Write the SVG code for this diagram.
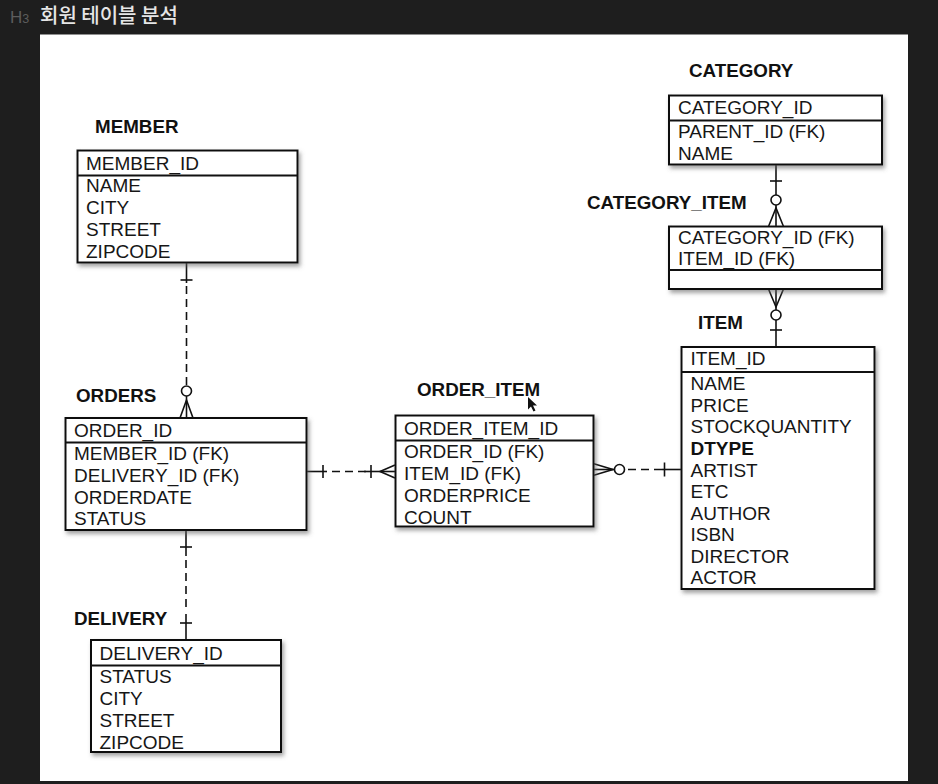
<svg xmlns="http://www.w3.org/2000/svg" width="938" height="784" viewBox="0 0 938 784">
<defs>
<style>
.t{font-family:"Liberation Sans",Arial,sans-serif;font-size:19px;fill:#161616}
.tb{font-family:"Liberation Sans",Arial,sans-serif;font-size:19px;fill:#111;font-weight:bold}
.h{font-family:"Liberation Sans",Arial,sans-serif;font-size:18.8px;font-weight:bold;fill:#111}
.box{fill:#fff;stroke:#111;stroke-width:2}
.div{stroke:#111;stroke-width:1.8}
.c{stroke:#111;stroke-width:1.6;fill:none}
.d{stroke:#111;stroke-width:1.6;fill:none;stroke-dasharray:8 5}
.o{stroke:#111;stroke-width:1.6;fill:#fff}
</style>
<filter id="sh" x="-10%" y="-10%" width="125%" height="125%">
<feDropShadow dx="2" dy="3" stdDeviation="2" flood-color="#666" flood-opacity="0.6"/>
</filter>
</defs>
<rect x="0" y="0" width="938" height="784" fill="#1e1e1e"/>
<text x="10" y="23" font-family="Liberation Sans,Arial,sans-serif" font-size="17" fill="#5c5c5c">H<tspan font-size="12.5">3</tspan></text>
<text x="40" y="23" font-family="'Noto Sans CJK KR',sans-serif" font-size="20" font-weight="500" fill="#e6e6e6">회원 테이블 분석</text>
<rect x="40" y="34.5" width="868" height="746.5" fill="#fff"/>

<g id="connectors">
<!-- member - orders -->
<line class="c" x1="186.5" y1="262" x2="186.5" y2="283"/>
<line class="c" x1="180.5" y1="280" x2="192.5" y2="280"/>
<line class="d" x1="186.5" y1="286" x2="186.5" y2="386"/>
<circle class="o" cx="186.5" cy="391" r="5"/>
<line class="c" x1="186.5" y1="396" x2="186.5" y2="418"/>
<path class="c" d="M180,418 L186.5,400 L193,418"/>
<!-- orders - delivery -->
<line class="c" x1="186" y1="530" x2="186" y2="556"/>
<line class="c" x1="180" y1="547" x2="192" y2="547"/>
<line class="d" x1="186" y1="560" x2="186" y2="612"/>
<line class="c" x1="186" y1="614" x2="186" y2="640"/>
<line class="c" x1="180" y1="623" x2="192" y2="623"/>
<!-- orders - order_item -->
<line class="c" x1="306" y1="471.5" x2="327" y2="471.5"/>
<line class="c" x1="323" y1="465" x2="323" y2="478"/>
<line class="d" x1="332" y1="471.5" x2="366" y2="471.5"/>
<line class="c" x1="364" y1="471.5" x2="395" y2="471.5"/>
<line class="c" x1="371" y1="465" x2="371" y2="478"/>
<path class="c" d="M395,465 L380,471.5 L395,478"/>
<!-- order_item - item -->
<path class="c" d="M593,463.5 L613,469.5 L593,475.5"/>
<line class="c" x1="593" y1="469.5" x2="614.5" y2="469.5"/>
<circle class="o" cx="619.5" cy="469.5" r="5"/>
<line class="d" x1="628" y1="469.5" x2="664" y2="469.5"/>
<line class="c" x1="662" y1="469.5" x2="681" y2="469.5"/>
<line class="c" x1="664.5" y1="462.5" x2="664.5" y2="476.5"/>
<!-- category - category_item -->
<line class="c" x1="776" y1="164" x2="776" y2="195"/>
<line class="c" x1="770" y1="181" x2="782" y2="181"/>
<circle class="o" cx="776" cy="200" r="5"/>
<line class="c" x1="776" y1="205" x2="776" y2="226.5"/>
<path class="c" d="M768.5,226.5 L776,208 L783.5,226.5"/>
<!-- category_item - item -->
<path class="c" d="M768.5,289 L776,307 L783.5,289"/>
<line class="c" x1="776" y1="289" x2="776" y2="310"/>
<circle class="o" cx="776" cy="315" r="5"/>
<line class="c" x1="776" y1="320" x2="776" y2="347"/>
<line class="c" x1="770" y1="330" x2="782" y2="330"/>
</g>

<g id="member">
<text class="h" x="95" y="133">MEMBER</text>
<rect class="box" x="77.5" y="150.5" width="220" height="112" filter="url(#sh)"/>
<line class="div" x1="77.5" y1="175.5" x2="297.5" y2="175.5"/>
<text class="t" x="86" y="170">MEMBER_ID</text>
<text class="t" x="86" y="192">NAME</text>
<text class="t" x="86" y="214">CITY</text>
<text class="t" x="86" y="236">STREET</text>
<text class="t" x="86" y="258">ZIPCODE</text>
</g>

<g id="orders">
<text class="h" x="76" y="402">ORDERS</text>
<rect class="box" x="65.5" y="418" width="241" height="112" filter="url(#sh)"/>
<line class="div" x1="65.5" y1="442.5" x2="306.5" y2="442.5"/>
<text class="t" x="74" y="437">ORDER_ID</text>
<text class="t" x="74" y="460">MEMBER_ID (FK)</text>
<text class="t" x="74" y="482">DELIVERY_ID (FK)</text>
<text class="t" x="74" y="503.5">ORDERDATE</text>
<text class="t" x="74" y="525">STATUS</text>
</g>

<g id="delivery">
<text class="h" x="74" y="625">DELIVERY</text>
<rect class="box" x="91" y="640" width="190" height="112" filter="url(#sh)"/>
<line class="div" x1="91" y1="665.5" x2="281" y2="665.5"/>
<text class="t" x="99.5" y="659.5">DELIVERY_ID</text>
<text class="t" x="99.5" y="683">STATUS</text>
<text class="t" x="99.5" y="705">CITY</text>
<text class="t" x="99.5" y="727">STREET</text>
<text class="t" x="99.5" y="748.5">ZIPCODE</text>
</g>

<g id="order_item">
<text class="h" x="417" y="396">ORDER_ITEM</text>
<rect class="box" x="395.5" y="415.5" width="198" height="111" filter="url(#sh)"/>
<line class="div" x1="395.5" y1="440.5" x2="593.5" y2="440.5"/>
<text class="t" x="404" y="434.5">ORDER_ITEM_ID</text>
<text class="t" x="404" y="457.5">ORDER_ID (FK)</text>
<text class="t" x="404" y="480">ITEM_ID (FK)</text>
<text class="t" x="404" y="502">ORDERPRICE</text>
<text class="t" x="404" y="523.5">COUNT</text>
<path d="M528,397 L528,409.5 L531,406.5 L533.5,411.5 L535.5,410.5 L533,405.5 L537,405.5 Z" fill="#111"/>
</g>

<g id="category">
<text class="h" x="689" y="77">CATEGORY</text>
<rect class="box" x="669" y="95.5" width="213" height="69" filter="url(#sh)"/>
<line class="div" x1="669" y1="120.5" x2="882" y2="120.5"/>
<text class="t" x="678" y="114">CATEGORY_ID</text>
<text class="t" x="678" y="138">PARENT_ID (FK)</text>
<text class="t" x="678" y="160">NAME</text>
</g>

<g id="category_item">
<text class="h" x="587" y="208.5">CATEGORY_ITEM</text>
<rect class="box" x="669" y="226.5" width="213" height="62.5" filter="url(#sh)"/>
<line class="div" x1="669" y1="270" x2="882" y2="270"/>
<text class="t" x="678" y="244">CATEGORY_ID (FK)</text>
<text class="t" x="678" y="265">ITEM_ID (FK)</text>
</g>

<g id="item">
<text class="h" x="698" y="329">ITEM</text>
<rect class="box" x="681.5" y="347" width="193" height="242" filter="url(#sh)"/>
<line class="div" x1="681.5" y1="372" x2="874.5" y2="372"/>
<text class="t" x="690.5" y="365">ITEM_ID</text>
<text class="t" x="690.5" y="390">NAME</text>
<text class="t" x="690.5" y="411.5">PRICE</text>
<text class="t" x="690.5" y="433">STOCKQUANTITY</text>
<text class="tb" x="690.5" y="454.5">DTYPE</text>
<text class="t" x="690.5" y="476.5">ARTIST</text>
<text class="t" x="690.5" y="498">ETC</text>
<text class="t" x="690.5" y="519.5">AUTHOR</text>
<text class="t" x="690.5" y="541">ISBN</text>
<text class="t" x="690.5" y="562.5">DIRECTOR</text>
<text class="t" x="690.5" y="584">ACTOR</text>
</g>
</svg>
